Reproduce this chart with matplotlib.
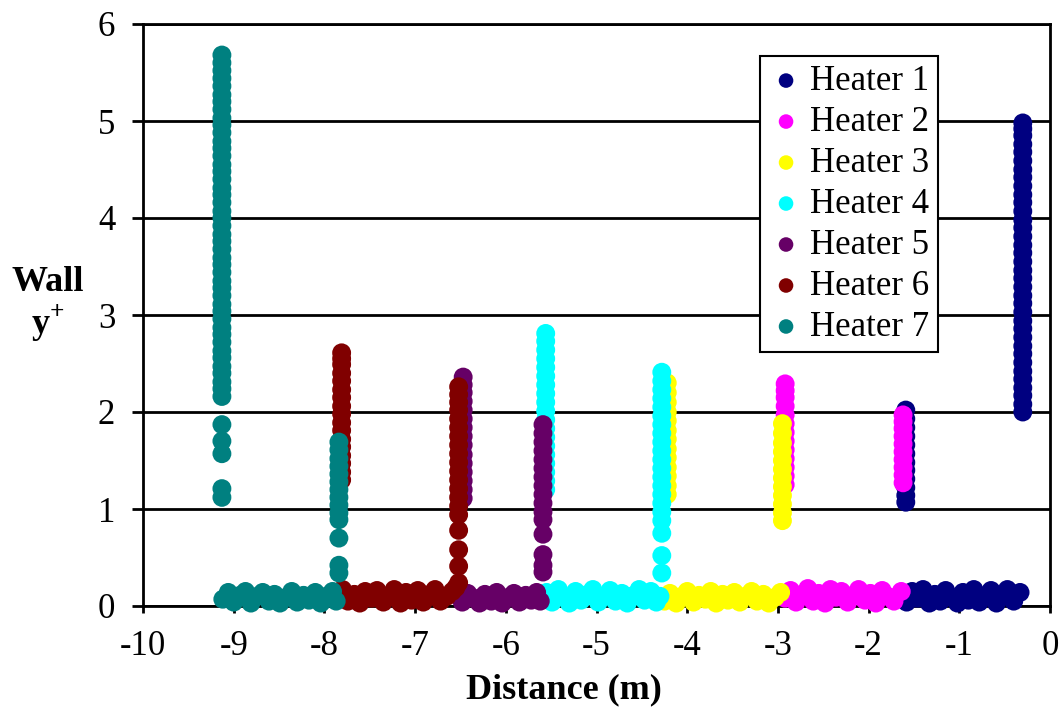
import numpy as np
import matplotlib
matplotlib.use('Agg')
import matplotlib.pyplot as plt

plt.rcParams['font.family'] = ['Liberation Serif', 'DejaVu Serif']
plt.rcParams['mathtext.fontset'] = 'custom'
plt.rcParams['mathtext.rm'] = 'Liberation Serif'
plt.rcParams['mathtext.bf'] = 'Liberation Serif:bold'
plt.rcParams['axes.unicode_minus'] = False

labels = ['Heater 1', 'Heater 2', 'Heater 3', 'Heater 4',
          'Heater 5', 'Heater 6', 'Heater 7']
colors = ['#000080', '#FF00FF', '#FFFF00', '#00FFFF',
          '#660066', '#800000', '#008080']

# Each heater: two vertical columns of points (x position, y values)
# plus a band of points lying near the wall (x values, y values).
h1_col_x = [-1.59, -0.30]
h1_col_a = [1.07, 1.14, 1.22, 1.31, 1.40, 1.48, 1.57, 1.66, 1.75, 1.84, 1.93, 2.02]
h1_col_b = [2.00, 2.08, 2.17, 2.25, 2.34, 2.42, 2.51, 2.60, 2.68, 2.77, 2.86, 2.94,
            3.03, 3.12, 3.20, 3.29, 3.38, 3.46, 3.55, 3.64, 3.72, 3.81, 3.90, 3.98,
            4.07, 4.16, 4.24, 4.33, 4.42, 4.50, 4.59, 4.68, 4.76, 4.85, 4.92, 4.98]
h1_band_x = [-1.58, -1.52, -1.46, -1.40, -1.33, -1.27, -1.21, -1.15, -1.09, -1.02,
             -0.96, -0.90, -0.84, -0.78, -0.71, -0.65, -0.59, -0.53, -0.47, -0.40, -0.33]
h1_band_y = [0.04, 0.15, 0.08, 0.17, 0.03, 0.12, 0.05, 0.16, 0.09, 0.03, 0.14,
             0.06, 0.17, 0.04, 0.11, 0.16, 0.03, 0.10, 0.17, 0.05, 0.14]

h2_col_x = [-2.92, -1.62]
h2_col_a = [1.25, 1.34, 1.43, 1.52, 1.61, 1.70, 1.79, 1.88, 1.97, 2.06, 2.15, 2.22, 2.29]
h2_col_b = [1.27, 1.35, 1.43, 1.51, 1.59, 1.67, 1.75, 1.83, 1.90, 1.97]
h2_band_x = [-2.92, -2.86, -2.80, -2.73, -2.67, -2.61, -2.55, -2.48, -2.42, -2.36,
             -2.30, -2.23, -2.17, -2.11, -2.04, -1.98, -1.92, -1.85, -1.79, -1.72, -1.64]
h2_band_y = [0.08, 0.16, 0.04, 0.12, 0.18, 0.05, 0.13, 0.03, 0.17, 0.09, 0.15,
             0.04, 0.11, 0.17, 0.06, 0.13, 0.03, 0.16, 0.10, 0.05, 0.15]

h3_col_x = [-4.22, -2.95]
h3_col_a = [1.15, 1.24, 1.34, 1.43, 1.53, 1.62, 1.72, 1.81, 1.91, 2.00, 2.10, 2.20, 2.30]
h3_col_b = [0.88, 0.96, 1.05, 1.14, 1.23, 1.32, 1.41, 1.50, 1.59, 1.68, 1.78, 1.88]
h3_band_x = [-4.25, -4.19, -4.12, -4.06, -4.00, -3.93, -3.87, -3.80, -3.74, -3.68,
             -3.61, -3.55, -3.48, -3.42, -3.36, -3.29, -3.23, -3.16, -3.10, -3.03, -2.97]
h3_band_y = [0.05, 0.13, 0.03, 0.10, 0.15, 0.04, 0.11, 0.07, 0.15, 0.03, 0.12,
             0.06, 0.14, 0.04, 0.10, 0.15, 0.05, 0.12, 0.03, 0.09, 0.14]

h4_col_x = [-5.56, -4.28]
h4_col_a = [1.20, 1.29, 1.38, 1.47, 1.56, 1.65, 1.74, 1.83, 1.92, 2.01, 2.10, 2.19,
            2.28, 2.37, 2.46, 2.55, 2.64, 2.73, 2.81]
h4_col_b = [0.34, 0.52, 0.75, 0.88, 0.97, 1.06, 1.15, 1.24, 1.33, 1.42, 1.51, 1.60,
            1.69, 1.78, 1.87, 1.96, 2.05, 2.14, 2.23, 2.32, 2.41]
h4_band_x = [-5.55, -5.49, -5.42, -5.36, -5.30, -5.23, -5.17, -5.10, -5.04, -4.98,
             -4.91, -4.85, -4.79, -4.72, -4.66, -4.59, -4.53, -4.47, -4.40, -4.34, -4.30]
h4_band_y = [0.14, 0.04, 0.17, 0.09, 0.03, 0.15, 0.06, 0.12, 0.17, 0.04, 0.10,
             0.16, 0.05, 0.13, 0.03, 0.11, 0.17, 0.06, 0.15, 0.04, 0.10]

h5_col_x = [-6.47, -5.59]
h5_col_a = [1.11, 1.20, 1.29, 1.38, 1.47, 1.56, 1.66, 1.75, 1.84, 1.93, 2.02, 2.11,
            2.20, 2.28, 2.36]
h5_col_b = [0.35, 0.42, 0.53, 0.74, 0.89, 0.97, 1.06, 1.15, 1.24, 1.33, 1.42, 1.51,
            1.60, 1.69, 1.78, 1.87]
h5_band_x = [-6.48, -6.42, -6.35, -6.29, -6.23, -6.16, -6.10, -6.04, -5.97, -5.91,
             -5.85, -5.78, -5.72, -5.66, -5.62]
h5_band_y = [0.04, 0.13, 0.08, 0.03, 0.12, 0.05, 0.14, 0.03, 0.09, 0.13, 0.04,
             0.11, 0.06, 0.14, 0.05]

h6_col_x = [-7.81, -6.52]
h6_col_a = [1.30, 1.38, 1.47, 1.55, 1.64, 1.72, 1.81, 1.89, 1.98, 2.06, 2.15, 2.23,
            2.32, 2.40, 2.49, 2.55, 2.61]
h6_col_b = [0.24, 0.41, 0.58, 0.78, 0.94, 1.03, 1.12, 1.21, 1.30, 1.39, 1.48, 1.57,
            1.66, 1.75, 1.84, 1.93, 2.02, 2.10, 2.18, 2.26]
h6_band_x = [-7.80, -7.74, -7.67, -7.61, -7.55, -7.48, -7.42, -7.35, -7.29, -7.23,
             -7.16, -7.10, -7.04, -6.97, -6.91, -6.84, -6.78, -6.72, -6.65, -6.59, -6.55]
h6_band_y = [0.17, 0.05, 0.12, 0.03, 0.15, 0.08, 0.16, 0.04, 0.11, 0.17, 0.03,
             0.14, 0.06, 0.16, 0.04, 0.12, 0.17, 0.05, 0.10, 0.15, 0.19]

h7_col_x = [-9.13, -7.84]
h7_col_a = [1.12, 1.21, 1.57, 1.70, 1.87, 2.16, 2.24, 2.31, 2.40, 2.47, 2.56, 2.63,
            2.72, 2.80, 2.87, 2.96, 3.04, 3.11, 3.20, 3.28, 3.35, 3.44, 3.52, 3.59,
            3.68, 3.76, 3.83, 3.92, 4.00, 4.07, 4.16, 4.24, 4.31, 4.40, 4.48, 4.55,
            4.64, 4.72, 4.79, 4.88, 4.96, 5.03, 5.12, 5.20, 5.27, 5.36, 5.44, 5.52,
            5.60, 5.68]
h7_col_b = [0.34, 0.42, 0.70, 0.89, 0.96, 1.04, 1.12, 1.20, 1.28, 1.36, 1.44, 1.52,
            1.61, 1.69]
h7_band_x = [-9.12, -9.06, -9.00, -8.93, -8.87, -8.81, -8.74, -8.68, -8.61, -8.55,
             -8.49, -8.42, -8.36, -8.30, -8.23, -8.17, -8.10, -8.04, -7.98, -7.91, -7.87]
h7_band_y = [0.07, 0.14, 0.04, 0.11, 0.15, 0.03, 0.10, 0.14, 0.05, 0.12, 0.03,
             0.09, 0.15, 0.04, 0.11, 0.06, 0.14, 0.03, 0.10, 0.15, 0.05]

heaters = [
    (h1_col_x, h1_col_a, h1_col_b, h1_band_x, h1_band_y),
    (h2_col_x, h2_col_a, h2_col_b, h2_band_x, h2_band_y),
    (h3_col_x, h3_col_a, h3_col_b, h3_band_x, h3_band_y),
    (h4_col_x, h4_col_a, h4_col_b, h4_band_x, h4_band_y),
    (h5_col_x, h5_col_a, h5_col_b, h5_band_x, h5_band_y),
    (h6_col_x, h6_col_a, h6_col_b, h6_band_x, h6_band_y),
    (h7_col_x, h7_col_a, h7_col_b, h7_band_x, h7_band_y),
]

fig = plt.figure(figsize=(10.59, 7.19), dpi=100)
ax = fig.add_axes([143 / 1059, 1 - 606 / 719, 907 / 1059, 582 / 719])

for (col_x, col_a, col_b, band_x, band_y), label, color in zip(heaters, labels, colors):
    xs = np.concatenate([band_x, np.full(len(col_a), col_x[0]), np.full(len(col_b), col_x[1])])
    ys = np.concatenate([band_y, col_a, col_b])
    ax.scatter(xs, ys, s=185, color=color, edgecolors='none', label=label,
               clip_on=False, zorder=3)

ax.set_xlim(-10, 0)
ax.set_ylim(0, 6)
ax.set_xticks(range(-10, 1))
ax.set_yticks(range(0, 7))
ax.grid(axis='y', color='black', linewidth=2)
ax.set_axisbelow(True)
for side in ['left', 'bottom', 'top', 'right']:
    ax.spines[side].set_linewidth(2)
ax.tick_params(axis='y', direction='out', length=8, width=2, pad=12, labelsize=25)
ax.tick_params(axis='x', direction='out', length=5, width=2, pad=12, labelsize=25)

fig.text(564 / 1059, 1 - 690 / 719, 'Distance (m)', ha='center', va='center',
         fontsize=26, fontweight='bold')
fig.text(48 / 1059, 1 - 305 / 719, 'Wall\ny$^{\\mathbf{+}}$', ha='center', va='center',
         fontsize=26, fontweight='bold', linespacing=1.1)

leg = ax.legend(loc='upper left', bbox_to_anchor=((760 - 143) / 907, (606 - 56) / 582),
                fontsize=25, frameon=True, fancybox=False, framealpha=1,
                edgecolor='black', borderpad=0.25, labelspacing=0.23,
                handletextpad=0.2, handlelength=1.0, borderaxespad=0)
leg.get_frame().set_linewidth(1.5)
for h in leg.legend_handles:
    h.set_sizes([110])

fig.savefig('out.png', dpi=100)
